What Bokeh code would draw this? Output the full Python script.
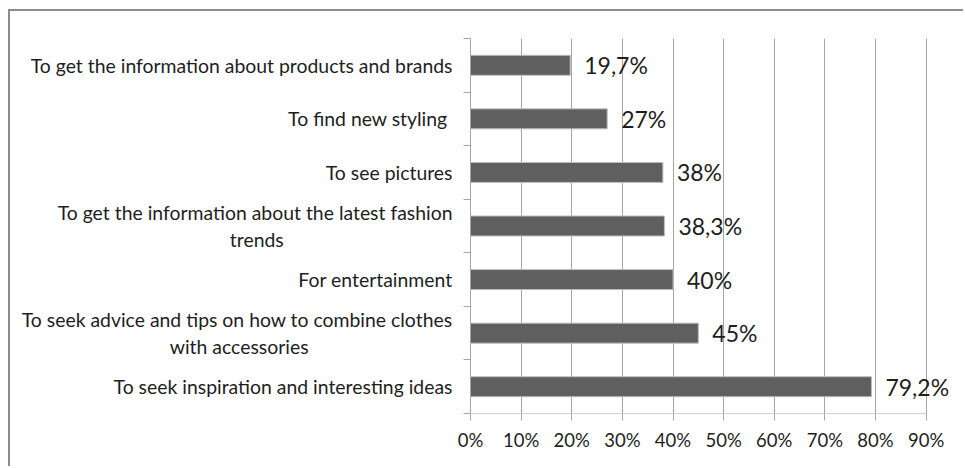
from bokeh.plotting import figure
from bokeh.models import FixedTicker, ColumnDataSource, LabelSet, NumeralTickFormatter
from bokeh.core.properties import value
from bokeh.embed import file_html
from bokeh.resources import INLINE

# categories listed top to bottom
categories = [
    "To get the information about products and brands",
    "To find new styling ",
    "To see pictures",
    "To get the information about the latest fashion\ntrends",
    "For entertainment",
    "To seek advice and tips on how to combine clothes\nwith accessories",
    "To seek inspiration and interesting ideas",
]
values = [19.7, 27, 38, 38.3, 40, 45, 79.2]
value_labels = ["19,7%", "27%", "38%", "38,3%", "40%", "45%", "79,2%"]
x_ticks = [0, 10, 20, 30, 40, 50, 60, 70, 80, 90]

n = len(categories)
ypos = [n - 1 - i + 0.5 for i in range(n)]

FONT = "Lato"
TXT = "#1e1e1e"
GRID = "#a6a6a6"

# second lines of wrapped labels are centred under the first line:
# pad them on the right with non-breaking spaces (axis labels are right-anchored)
PAD = {3: 34, 5: 29}


def centred(i, label):
    if "\n" not in label:
        return label
    first, second = label.split("\n", 1)
    return first + "\n" + second + "\u00a0" * PAD.get(i, 0)


p = figure(width=955, height=457, output_backend="svg", toolbar_location=None,
           x_range=(0, 96), y_range=(0, n),
           min_border_left=460, min_border_right=9, min_border_top=27, min_border_bottom=55)
p.outline_line_color = None
p.background_fill_color = "white"
p.border_fill_color = "white"
p.styles = {"border-top": "2px solid #8c8c8c", "border-left": "2px solid #8c8c8c",
            "margin-left": "8px", "margin-top": "9px"}

src = ColumnDataSource(dict(y=ypos, v=values, lab=value_labels, x0=[0] * n))
p.hbar(y="y", left="x0", right="v", height=0.373, source=src,
       fill_color="#5f5f5f", line_color="#bdbdbd", line_width=1)

labels = LabelSet(x="v", y="y", text="lab", source=src, x_offset=14, y_offset=0,
                  text_baseline="middle", text_align="left",
                  text_font=value(FONT), text_font_size="23px", text_color=TXT)
p.add_layout(labels)

# x axis baseline only up to the last tick
p.segment(x0=[x_ticks[0]], x1=[x_ticks[-1]], y0=[0], y1=[0], line_color=GRID, line_width=1)

p.xaxis.ticker = FixedTicker(ticks=x_ticks)
p.xaxis.formatter = NumeralTickFormatter(format="0")
p.xaxis.major_label_overrides = {t: f"{t}%" for t in x_ticks}
p.xaxis.axis_line_color = None
p.xaxis.major_tick_line_color = GRID
p.xaxis.major_tick_out = 7
p.xaxis.major_tick_in = 0
p.xaxis.minor_tick_line_color = None
p.xaxis.major_label_text_font = FONT
p.xaxis.major_label_text_font_size = "18.5px"
p.xaxis.major_label_text_color = TXT
p.xaxis.major_label_standoff = 8

# y axis: labels at band centres, ticks at band boundaries
p.yaxis.ticker = FixedTicker(ticks=ypos, minor_ticks=list(range(n + 1)))
p.yaxis.major_label_overrides = {y: centred(i, c) for i, (y, c) in enumerate(zip(ypos, categories))}
p.yaxis.axis_line_color = GRID
p.yaxis.major_tick_line_color = None
p.yaxis.major_tick_out = 0
p.yaxis.major_tick_in = 0
p.yaxis.minor_tick_line_color = GRID
p.yaxis.minor_tick_out = 7
p.yaxis.minor_tick_in = 0
p.yaxis.major_label_text_font = FONT
p.yaxis.major_label_text_font_size = "19.4px"
p.yaxis.major_label_text_color = TXT
p.yaxis.major_label_standoff = 11

p.xgrid.ticker = FixedTicker(ticks=x_ticks)
p.xgrid.grid_line_color = GRID
p.ygrid.grid_line_color = None

open("out.html", "w").write(file_html(p, INLINE))
